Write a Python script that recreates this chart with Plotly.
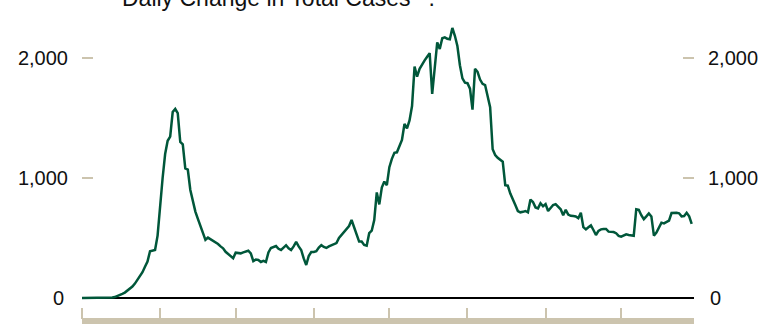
import pandas as pd
import plotly.graph_objects as go

# Daily change in total cases, one value per day starting 2020-03-01
start_date = "2020-03-01"
daily_cases = [
    0, 0, 0, 0, 0, 0, 0, 0, 0, 0,
    0, 3, 5, 8, 15, 25, 35, 45, 60, 75,
    95, 120, 150, 178, 215, 260, 303, 390, 395, 400,
    520, 780, 1000, 1200, 1310, 1345, 1550, 1575, 1540, 1300,
    1280, 1080, 1070, 900, 800, 720, 660, 600, 540, 485,
    503, 490, 475, 460, 450, 430, 414, 385, 365, 345,
    331, 378, 375, 372, 380, 390, 394, 372, 308, 320,
    317, 300, 310, 300, 380, 417, 425, 433, 410, 400,
    420, 440, 415, 400, 430, 467, 430, 400, 330, 275,
    350, 383, 383, 390, 420, 440, 425, 417, 430, 440,
    450, 458, 500, 525, 545, 567, 600, 650, 590, 520,
    470, 470, 442, 436, 540, 561, 650, 880, 780, 920,
    970, 940, 1090, 1160, 1210, 1214, 1260, 1317, 1450, 1414,
    1480, 1600, 1928, 1845, 1910, 1950, 1980, 2011, 2040, 1700,
    1900, 2130, 2075, 2165, 2172, 2160, 2156, 2250, 2185, 2100,
    1940, 1830, 1795, 1790, 1745, 1570, 1910, 1885, 1820, 1785,
    1775, 1690, 1590, 1240, 1192, 1168, 1148, 1136, 940, 936,
    870, 815, 775, 725, 714, 718, 725, 714, 820, 800,
    755, 747, 790, 765, 783, 725, 750, 775, 782, 760,
    739, 690, 735, 695, 685, 683, 680, 665, 710, 590,
    572, 590, 605, 567, 525, 560, 572, 575, 575, 553,
    553, 550, 540, 518, 511, 520, 530, 525, 520, 519,
    740, 735, 690, 657, 680, 705, 680, 520, 545, 590,
    628, 622, 636, 645, 708, 711, 710, 706, 680, 683,
    710, 680, 617,
]
dates = pd.date_range(start_date, periods=len(daily_cases), freq="D")

x_range = ["2020-03-01", "2020-10-29 22:00"]
y_range = [-75, 2400]
y_tickvals = [1000, 2000]
y_ticktext = ["1,000", "2,000"]
zero_label = "0"
title_text = "Daily Change in Total Cases**:"

GREEN = "#00573a"
TAN = "#ccc4ae"
FONT = "Liberation Sans, Arial, sans-serif"

fig = go.Figure()
fig.add_trace(go.Scatter(x=dates, y=daily_cases, mode="lines",
                         line=dict(color=GREEN, width=2.5), hoverinfo="skip",
                         showlegend=False))
fig.add_trace(go.Scatter(x=dates, y=daily_cases, mode="lines", yaxis="y2",
                         line=dict(color="rgba(0,0,0,0)", width=0), hoverinfo="skip",
                         showlegend=False))

yax = dict(range=y_range, tickvals=y_tickvals, ticktext=y_ticktext,
           ticks="inside", ticklen=11, tickwidth=2, tickcolor=TAN,
           showgrid=False, zeroline=False, showline=False,
           ticklabelstandoff=13, fixedrange=True, automargin=False)

fig.update_layout(
    width=775, height=324,
    margin=dict(l=82, r=81, t=10, b=17, autoexpand=False),
    paper_bgcolor="white", plot_bgcolor="white",
    font=dict(family=FONT, size=20, color="#111"),
    showlegend=False,
    xaxis=dict(type="date", range=x_range, tick0="2020-03-01", dtick="M1",
               ticks="outside", ticklen=11, tickwidth=2, tickcolor=TAN,
               showticklabels=False, showgrid=False, zeroline=False, showline=False,
               automargin=False, fixedrange=True),
    yaxis=dict(side="left", **yax),
    yaxis2=dict(side="right", overlaying="y", **yax),
    shapes=[
        dict(type="line", xref="paper", yref="y", x0=0, x1=1, y0=0, y1=0,
             line=dict(color="#000", width=2), layer="below"),
        dict(type="rect", xref="paper", yref="paper", x0=0, x1=1,
             y0=-11 / 297, y1=-20 / 297, fillcolor=TAN, line=dict(width=0)),
    ],
    annotations=[
        dict(text=title_text, xref="paper", yref="paper", x=(120 - 82) / 612,
             y=1 - 3.5 / 297, xanchor="left", yanchor="bottom", showarrow=False,
             font=dict(size=23, color="#111")),
        dict(text=zero_label, xref="paper", yref="y", x=-16 / 612, y=0,
             xanchor="right", yanchor="middle", showarrow=False,
             font=dict(size=20, color="#111")),
        dict(text=zero_label, xref="paper", yref="y", x=1 + 14 / 612, y=0,
             xanchor="left", yanchor="middle", showarrow=False,
             font=dict(size=20, color="#111")),
    ],
)

fig.write_html("out.html", config={"displayModeBar": False},
               post_script="document.body.style.margin='0';")
